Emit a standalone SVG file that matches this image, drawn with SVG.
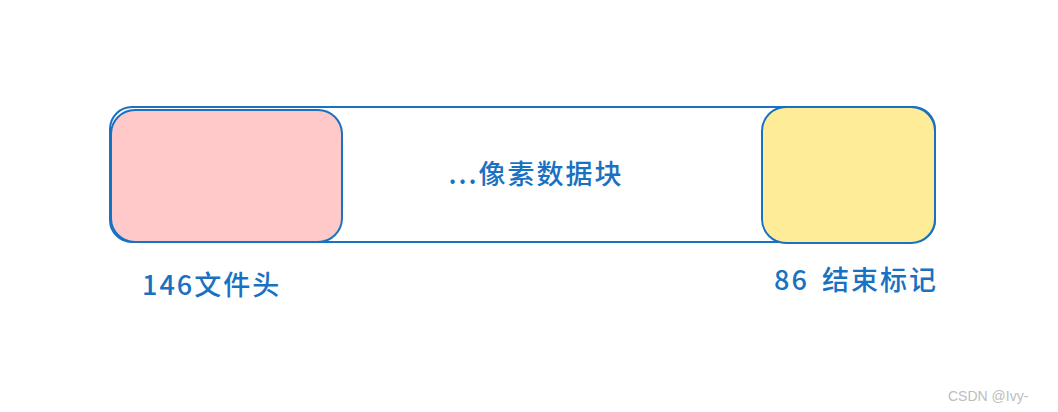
<svg xmlns="http://www.w3.org/2000/svg" width="1058" height="412" viewBox="0 0 1058 412">
<style>
.box{stroke:#1971c2;stroke-width:2}
.t{font-family:"Noto Sans CJK SC","Liberation Sans",sans-serif;font-size:27px;fill:#1971c2;letter-spacing:2px;font-weight:500}
.wm{font-family:"Liberation Sans",sans-serif;font-size:14px;fill:#bdbdbd}
</style>
<rect width="1058" height="412" fill="#fff"/>
<g id="outer">
<rect class="box" x="110" y="107" width="825" height="135" rx="22" fill="#fff"/>
</g>
<g id="header">
<rect class="box" x="111" y="110" width="231" height="132" rx="24" fill="#ffc9c9"/>
</g>
<g id="end">
<rect class="box" x="762" y="107" width="173" height="136" rx="24" fill="#ffec99"/>
</g>
<g id="connectors"></g>
<text class="t" x="536" y="184" text-anchor="middle">...像素数据块</text>
<text class="t" x="142" y="295">146文件头</text>
<text class="t" x="774" y="290">86<tspan x="822">结束标记</tspan></text>
<text class="wm" x="948" y="401">CSDN @Ivy-</text>
</svg>
